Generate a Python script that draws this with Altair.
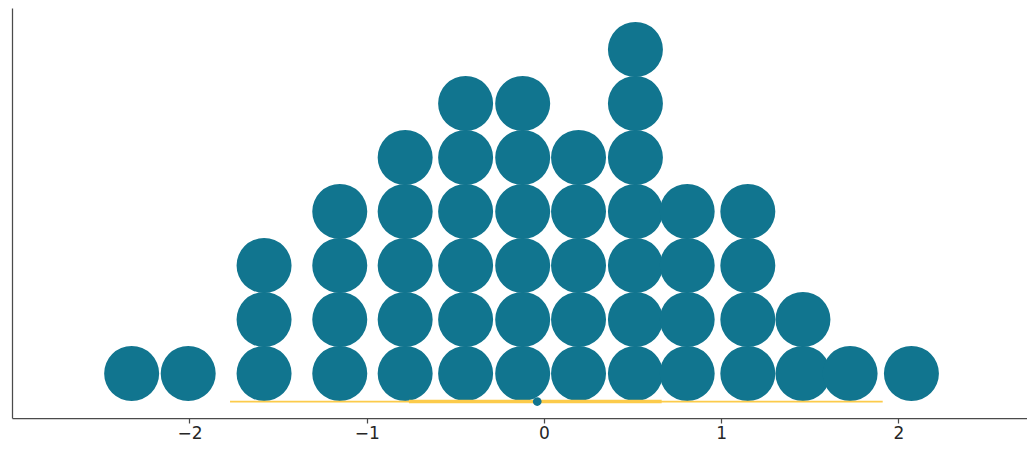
import altair as alt
import pandas as pd

# Dot plot columns (bin centres) and number of stacked dots in each
bin_centers = [-2.326, -2.007, -1.579, -1.152, -0.783, -0.442, -0.120,
               0.195, 0.516, 0.808, 1.150, 1.461, 1.727, 2.073]
bin_counts = [1, 1, 3, 4, 5, 6, 6, 5, 7, 4, 4, 2, 1, 1]

# Interval summary drawn under the dots
hdi_outer = [-1.771, 1.911]
hdi_inner = [-0.762, 0.664]
point_estimate = -0.038
interval_level = -0.519

x_ticks = [-2, -1, 0, 1, 2]
x_domain = [-3.001, 2.725]
y_domain = [-0.824, 6.769]

TEAL = "#11758F"
YELLOW = "#FCCB4B"

dots = pd.DataFrame(
    [{"x": c, "row": r} for c, n in zip(bin_centers, bin_counts) for r in range(n)]
)
outer = pd.DataFrame({"lo": [hdi_outer[0]], "hi": [hdi_outer[1]], "y": [interval_level]})
inner = pd.DataFrame({"lo": [hdi_inner[0]], "hi": [hdi_inner[1]], "y": [interval_level]})
point = pd.DataFrame({"x": [point_estimate], "y": [interval_level]})

xscale = alt.Scale(domain=x_domain, nice=False, zero=False)
yscale = alt.Scale(domain=y_domain, nice=False, zero=False)

xaxis = alt.Axis(values=x_ticks, format="d", title=None, grid=False,
                 domainColor="#4a4a4a", domainWidth=1.25,
                 tickColor="#4a4a4a", tickWidth=1.25, tickSize=5,
                 labelFont="DejaVu Sans", labelFontSize=17, labelColor="#262626",
                 labelPadding=2)
yaxis = alt.Axis(title=None, grid=False, ticks=False, labels=False,
                 domainColor="#4a4a4a", domainWidth=1.25)

dot_layer = alt.Chart(dots).mark_circle(size=3025, opacity=1, color=TEAL).encode(
    x=alt.X("x:Q", scale=xscale, axis=xaxis),
    y=alt.Y("row:Q", scale=yscale, axis=yaxis),
)

outer_layer = alt.Chart(outer).mark_rule(color=YELLOW, strokeWidth=1.8).encode(
    x=alt.X("lo:Q", scale=xscale), x2="hi:Q", y=alt.Y("y:Q", scale=yscale)
)
inner_layer = alt.Chart(inner).mark_rule(color=YELLOW, strokeWidth=3.5).encode(
    x=alt.X("lo:Q", scale=xscale), x2="hi:Q", y=alt.Y("y:Q", scale=yscale)
)
point_layer = alt.Chart(point).mark_circle(size=76, opacity=1, color=TEAL).encode(
    x=alt.X("x:Q", scale=xscale), y=alt.Y("y:Q", scale=yscale)
)

chart = (
    alt.layer(dot_layer, outer_layer, inner_layer, point_layer)
    .properties(width=1015, height=410,
                autosize=alt.AutoSizeParams(type="none"),
                padding={"left": 4, "top": 0, "right": 0, "bottom": 24},
                view=alt.ViewBackground(stroke="transparent", strokeWidth=0))
    .configure_view(strokeWidth=0, stroke="transparent")
    .configure(background="white")
)

chart.save("out.html", embed_options={"renderer": "svg", "actions": False})
